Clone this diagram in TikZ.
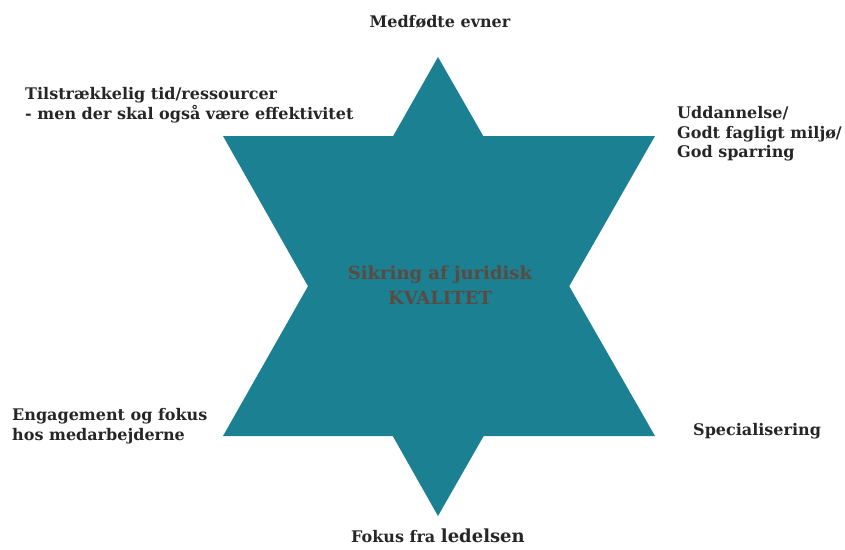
\documentclass[tikz,border=0pt]{standalone}
\usepackage{fontspec}
\setmainfont{DejaVu Serif}
\definecolor{stjerne}{RGB}{26,128,146}
\definecolor{midttekst}{RGB}{92,74,64}
\tikzset{
    faktor/.style={font=\bfseries\fontsize{16}{19.5}\selectfont, text=black!85, inner sep=0pt, align=left},
    midte/.style={font=\bfseries\fontsize{18}{25}\selectfont, text=midttekst, inner sep=0pt, align=center}
}

\begin{document}
\begin{tikzpicture}[x=1pt, y=-1pt]
    \useasboundingbox (0,0) rectangle (845,549);

    % stjernen
    \fill[stjerne] (438,57) -- (655,436) -- (223,436) -- cycle;
    \fill[stjerne] (438,516) -- (655,136) -- (223,136) -- cycle;

    \node[midte] (kvalitet) at (440,285) {Sikring af juridisk\\KVALITET};

    \node[faktor, align=center] (evner) at (440,22) {Medfødte evner};
    \node[faktor, anchor=west] (tid) at (25,105) {Tilstrækkelig tid/ressourcer\\- men der skal også være effektivitet};
    \node[faktor, anchor=west] (uddannelse) at (677,134) {Uddannelse/\\Godt fagligt miljø/\\God sparring};
    \node[faktor, anchor=west] (engagement) at (12,426) {Engagement og fokus\\hos medarbejderne};
    \node[faktor, anchor=west] (special) at (693,431) {Specialisering};
    \node[faktor] (ledelse) at (438,536) {Fokus fra {\fontsize{18}{19.5}\selectfont ledelsen}};
\end{tikzpicture}
\end{document}
